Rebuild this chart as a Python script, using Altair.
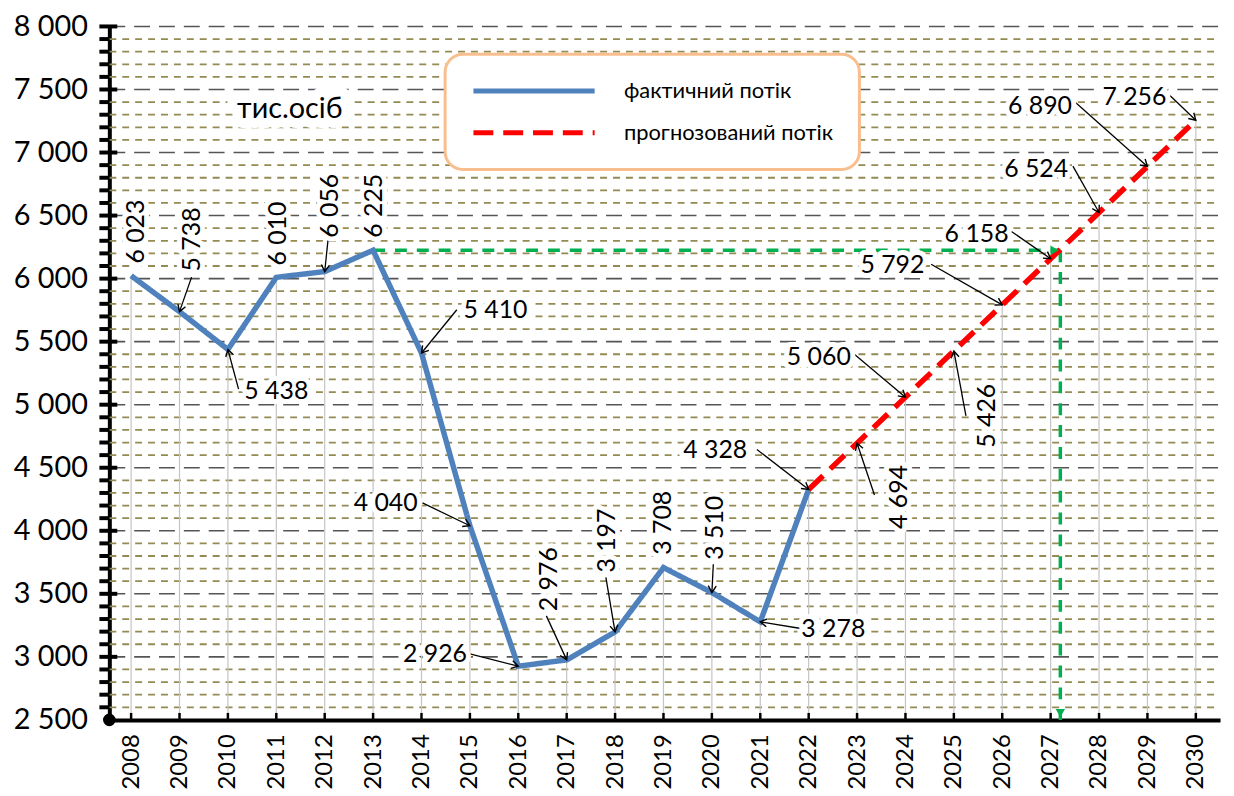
import math
import altair as alt
import pandas as pd

# ---------------- data ----------------
years_actual = list(range(2008, 2023))
values_actual = [6023, 5738, 5438, 6010, 6056, 6225, 5410, 4040, 2926, 2976,
                 3197, 3708, 3510, 3278, 4328]
years_forecast = list(range(2022, 2031))
values_forecast = [4328, 4694, 5060, 5426, 5792, 6158, 6524, 6890, 7256]
series_names = ["фактичний потік", "прогнозований потік"]
unit_title = "тис.осіб"

x_ticks = list(range(2008, 2031))
y_major = list(range(2500, 8001, 500))
y_minor = [v for v in range(2600, 8000, 100) if v % 500]

# green guide: level of the 2013 peak and the year the forecast reaches it
guide_start_year = 2013
guide_level = 6225
guide_cross_year = 2027.2

# annotation placement (label centre, in data units) for each year 2008..2030
label_year_pos = [2008.10, 2009.25, 2011.00, 2011.04, 2012.11, 2013.03, 2015.53,
                  2013.26, 2014.28, 2016.64, 2017.83, 2019.00, 2020.07, 2022.51,
                  2020.07, 2023.87, 2022.21, 2025.68, 2023.73, 2025.47, 2026.70,
                  2026.78, 2028.73]
label_value_pos = [6373, 6311, 5109, 6358, 6578, 6578, 5753, 4221, 3026, 3616,
                   3922, 4064, 4024, 3223, 4637, 4268, 5376, 4912, 6106, 6350,
                   6869, 7371, 7442]
label_angle = [270, 270, 0, 270, 270, 270, 0, 0, 0, 270, 270, 270, 270, 0,
               0, 270, 0, 270, 0, 0, 0, 0, 0]
# leader line start (None = no leader)
leader_year = [None, 2009.25, 2010.22, None, 2012.07, None, 2014.73, 2014.02,
               2014.98, 2016.58, 2017.81, None, 2020.03, 2021.87, 2020.93,
               2023.36, 2022.95, 2025.25, 2024.53, 2026.19, 2027.46, 2027.52,
               2029.47]
leader_value = [None, 6012, 5124, None, 6311, None, 5753, 4221, 3026, 3325,
                3631, None, 3734, 3223, 4645, 4284, 5399, 4912, 6114, 6374,
                6892, 7395, 7450]

# ---------------- geometry / styles ----------------
W, H = 1118, 698
X_MIN, X_MAX = 2007.55, 2030.5
Y_MIN, Y_MAX = 2500, 8000
FONT = "Lato"
BLUE = "#4f81bd"
RED = "#ff0000"
GREEN = "#00b050"

x_scale = alt.Scale(domain=[X_MIN, X_MAX], nice=False, zero=False)
y_scale = alt.Scale(domain=[Y_MIN, Y_MAX], nice=False, zero=False)

x_axis = alt.Axis(values=x_ticks, format="d", labelAngle=270, labelAlign="right",
                  labelBaseline="middle", labelPadding=14, ticks=False, grid=False,
                  domain=True, domainWidth=4, domainColor="black",
                  labelFontSize=24, labelFont=FONT, labelColor="black",
                  title=None, labelOverlap=False)
y_axis = alt.Axis(values=y_major, labelExpr="replace(format(datum.value, ','), ',', ' ')",
                  ticks=False, grid=False, domain=True, domainWidth=4,
                  domainColor="black", labelFontSize=29, labelFont=FONT,
                  labelColor="black", labelPadding=22, title=None,
                  labelOverlap=False, labelFlush=False)


def X(field):
    return alt.X(field, type="quantitative", scale=x_scale, axis=x_axis)


def Y(field):
    return alt.Y(field, type="quantitative", scale=y_scale, axis=y_axis)


# ---------------- tables ----------------
all_years = years_actual + years_forecast[1:]
all_values = values_actual + values_forecast[1:]
points = pd.DataFrame({"year": all_years, "value": all_values})
points["label"] = [f"{v:,}".replace(",", " ") for v in all_values]
points["ly"] = label_year_pos
points["lv"] = label_value_pos
points["ang"] = label_angle

lines_df = pd.concat([
    pd.DataFrame({"year": years_actual, "value": values_actual, "series": series_names[0]}),
    pd.DataFrame({"year": years_forecast, "value": values_forecast, "series": series_names[1]}),
])

px_year = W / (X_MAX - X_MIN)
px_val = H / (Y_MAX - Y_MIN)
lead_rows = []
for yr, v, sy, sv in zip(all_years, all_values, leader_year, leader_value):
    if sy is None:
        continue
    dx = (yr - sy) * px_year
    dy = -(v - sv) * px_val
    ang = math.degrees(math.atan2(dy, dx)) % 360
    lead_rows.append({"year": yr, "value": v, "sy": sy, "sv": sv, "ang": ang})
leaders = pd.DataFrame(lead_rows)

grid_major = pd.DataFrame({"v": y_major[1:]})
grid_minor = pd.DataFrame({"v": y_minor})
ticks_x = pd.DataFrame({"year": x_ticks})

guide_h = pd.DataFrame({"year": [guide_start_year, guide_cross_year],
                        "value": [guide_level, guide_level]})
guide_v = pd.DataFrame({"year": [guide_cross_year, guide_cross_year],
                        "value": [guide_level, Y_MIN]})
guide_heads = pd.DataFrame({"year": [guide_cross_year - 0.12, guide_cross_year],
                            "value": [guide_level, Y_MIN + 55],
                            "shape": ["triangle-right", "triangle-down"]})

# ---------------- layers ----------------
minor_grid = alt.Chart(grid_minor).mark_rule(
    color="#948a54", strokeWidth=1.8, strokeDash=[7, 6]
).encode(y=Y("v"), x=alt.value(0), x2=alt.value(W))

major_grid = alt.Chart(grid_major).mark_rule(
    color="#555555", strokeWidth=1.6, strokeDash=[16, 9]
).encode(y=Y("v"), x=alt.value(0), x2=alt.value(W))

minor_ticks = alt.Chart(grid_minor).mark_rule(color="black", strokeWidth=4).encode(
    y=Y("v"), x=alt.value(-10), x2=alt.value(0))
major_ticks = alt.Chart(grid_major).mark_rule(color="black", strokeWidth=4).encode(
    y=Y("v"), x=alt.value(-10), x2=alt.value(8))
x_tick_marks = alt.Chart(ticks_x).mark_rule(color="black", strokeWidth=2.5).encode(
    x=X("year"), y=alt.value(H - 7), y2=alt.value(H))

drops = alt.Chart(points).mark_rule(color="#c4c4c4", strokeWidth=1.2).encode(
    x=X("year"), y=Y("value"), y2=alt.datum(Y_MIN))

green_h = alt.Chart(guide_h).mark_line(color=GREEN, strokeWidth=3.5, strokeDash=[12, 10]).encode(
    x=X("year"), y=Y("value"))
green_v = alt.Chart(guide_v).mark_line(color=GREEN, strokeWidth=3.5, strokeDash=[12, 10]).encode(
    x=X("year"), y=Y("value"), order=alt.Order("value:Q", sort="descending"))
green_heads = alt.Chart(guide_heads).mark_point(filled=True, color=GREEN, size=90, opacity=1).encode(
    x=X("year"), y=Y("value"), shape=alt.Shape("shape:N", scale=None, legend=None))

series_lines = alt.Chart(lines_df).mark_line(strokeWidth=5.5, strokeCap="butt").encode(
    x=X("year"), y=Y("value"),
    color=alt.Color("series:N", scale=alt.Scale(domain=series_names, range=[BLUE, RED]),
                    legend=alt.Legend(title=None)),
    strokeDash=alt.StrokeDash("series:N",
                              scale=alt.Scale(domain=series_names, range=[[1, 0], [20, 10]]),
                              legend=alt.Legend(title=None)),
)

leader_lines = alt.Chart(leaders).mark_rule(color="black", strokeWidth=1.3).encode(
    x=X("sy"), y=Y("sv"), x2="year:Q", y2="value:Q")
arrow_heads = alt.Chart(leaders).mark_point(
    shape="M -1 -0.6 L 0 0 L -1 0.6", filled=False, color="black",
    strokeWidth=1.4, size=180, opacity=1
).encode(x=X("year"), y=Y("value"), angle=alt.Angle("ang:Q", scale=None))

label_base = alt.Chart(points).encode(
    x=X("ly"), y=Y("lv"), text="label:N", angle=alt.Angle("ang:Q", scale=None))
label_halo = label_base.mark_text(font=FONT, fontSize=25, color="white", stroke="white",
                                  strokeWidth=10, strokeJoin="round", align="center",
                                  baseline="middle")
label_text = label_base.mark_text(font=FONT, fontSize=25, color="black", align="center",
                                  baseline="middle")

title_df = pd.DataFrame({"year": [2011.28], "value": [7348], "t": [unit_title]})
title_halo = alt.Chart(title_df).mark_text(font=FONT, fontSize=29, color="white", stroke="white",
                                           strokeWidth=20, strokeJoin="round").encode(
    x=X("year"), y=Y("value"), text="t:N")
title_text = alt.Chart(title_df).mark_text(font=FONT, fontSize=29, color="black").encode(
    x=X("year"), y=Y("value"), text="t:N")

origin_dot = alt.Chart(title_df).mark_circle(color="black", size=160, opacity=1).encode(
    x=alt.value(0), y=alt.value(H))

chart = alt.layer(
    minor_grid, major_grid, drops, green_h, green_v, series_lines, green_heads,
    leader_lines, arrow_heads, label_halo, label_text, title_halo, title_text,
    minor_ticks, major_ticks, x_tick_marks, origin_dot,
).properties(
    width=W, height=H,
    padding={"left": 102, "top": 16, "right": 6, "bottom": 70},
    autosize=alt.AutoSizeParams(type="none"),
    background="white",
).configure_view(stroke=None).configure_legend(
    orient="none", legendX=338, legendY=28, strokeColor="#f9be8e", strokeWidth=3,
    cornerRadius=18, fillColor="white", padding=26, symbolType="stroke",
    symbolSize=14884, symbolStrokeWidth=5, labelFontSize=22, labelFont=FONT,
    labelColor="black", labelOffset=27, rowPadding=20, labelLimit=400,
    clipHeight=22,
)

chart.save("out.html", embed_options={"renderer": "svg", "actions": False})
